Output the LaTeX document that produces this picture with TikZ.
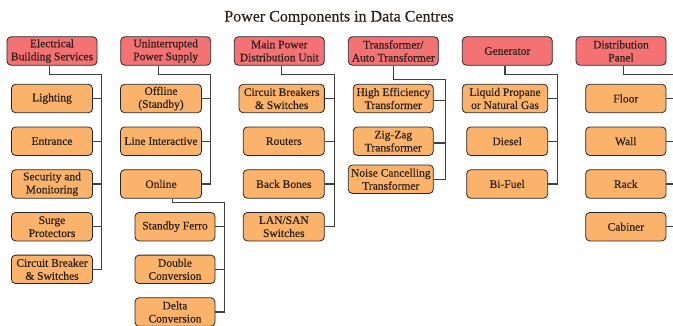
\documentclass[tikz,border=0pt]{standalone}
\usepackage{fontspec}
\setmainfont{Liberation Serif}[FakeBold=0.35]
\usepackage{tikz}

\definecolor{headred}{HTML}{F47174}
\definecolor{itemorange}{HTML}{FBB26A}
\definecolor{linkgray}{HTML}{404040}
\definecolor{inkbrown}{HTML}{2A211A}

\begin{document}
\begin{tikzpicture}[x=1pt,y=-1pt,
  box/.style={draw=black!85,line width=.8pt,rounded corners=4pt,align=center,inner sep=0pt,
    minimum height=28.4pt,text=inkbrown,font=\fontsize{11.5}{13}\selectfont},
  head/.style={box,fill=headred,minimum width=90pt},
  item/.style={box,fill=itemorange,minimum width=#1},
  item/.default=81pt,
  link/.style={draw=linkgray,line width=1.1pt}]
\useasboundingbox (0,0) rectangle (673,325);
\clip (0,0) rectangle (673,325);
\node[anchor=base,font=\fontsize{16}{18}\selectfont,text=inkbrown] (title) at (339,21.5) {Power Components in Data Centres};
\node[head] (ebs) at (52,51) {Electrical\\Building Services};
\node[item] (lig) at (52,98.5) {Lighting};
\node[item] (ent) at (52,141.2) {Entrance};
\node[item] (sec) at (52,184) {Security and\\Monitoring};
\node[item] (sur) at (52,226.7) {Surge\\Protectors};
\node[item] (cbs) at (52,269.3) {Circuit Breaker\\\& Switches};
\node[head] (ups) at (165.7,51) {Uninterrupted\\Power Supply};
\node[item] (off) at (161,98.5) {Offline\\(Standby)};
\node[item] (lin) at (161,141.2) {Line Interactive};
\node[item] (onl) at (161,184) {Online};
\node[item=80pt] (sfe) at (175,226.7) {Standby Ferro};
\node[item=80pt] (dco) at (175,269.3) {Double\\Conversion};
\node[item=80pt] (dlt) at (175,312) {Delta\\Conversion};
\node[head] (mpd) at (279.3,51) {Main Power\\Distribution Unit};
\node[item=85.3pt] (cbr) at (281.7,98.5) {Circuit Breakers\\\& Switches};
\node[item] (rou) at (283.8,141.2) {Routers};
\node[item] (bbo) at (283.8,184) {Back Bones};
\node[item] (lan) at (283.8,226.7) {LAN/SAN\\Switches};
\node[head] (trf) at (393.3,51) {Transformer/\\Auto Transformer};
\node[item=80pt] (hef) at (393.3,98.5) {High Efficiency\\Transformer};
\node[item=80pt] (zig) at (393.3,141.2) {Zig-Zag\\Transformer};
\node[item=85pt] (noi) at (390.8,179.2) {Noise Cancelling\\Transformer};
\node[head] (gen) at (507.3,51) {Generator};
\node[item=85.4pt] (lpg) at (505,98.5) {Liquid Propane\\or Natural Gas};
\node[item] (die) at (507.2,141.2) {Diesel};
\node[item] (bif) at (507.2,184) {Bi-Fuel};
\node[head] (dpa) at (621,51) {Distribution\\Panel};
\node[item=80.3pt] (flo) at (625.8,98.5) {Floor};
\node[item=80.3pt] (wal) at (625.8,141.2) {Wall};
\node[item=80.3pt] (rac) at (625.8,184) {Rack};
\node[item=80.3pt] (cab) at (625.8,226.7) {Cabiner};
\coordinate (ebsbus) at (101.3,74.7);
\coordinate (upsbus) at (210.7,74.7);
\coordinate (onlbus) at (224.7,202.7);
\coordinate (mpdbus) at (334.3,74.7);
\coordinate (trfbus) at (445.7,79.3);
\coordinate (genbus) at (557.3,74.7);
\coordinate (dpabus) at (680,74.7);
\draw[link] ([xshift=-2.7pt]ebs.south) |- (ebsbus) |- (cbs.east);
\foreach \n in {lig,ent,sec,sur} \draw[link] (\n.east) -- (\n.east -| ebsbus);
\draw[link] ([xshift=-7.4pt]ups.south) |- (upsbus) |- (onl.east);
\foreach \n in {off,lin} \draw[link] (\n.east) -- (\n.east -| upsbus);
\draw[link] ([xshift=11.3pt]onl.south) |- (onlbus) |- (dlt.east);
\foreach \n in {sfe,dco} \draw[link] (\n.east) -- (\n.east -| onlbus);
\draw[link] ([xshift=2.4pt]mpd.south) |- (mpdbus) |- (lan.east);
\foreach \n in {cbr,rou,bbo} \draw[link] (\n.east) -- (\n.east -| mpdbus);
\draw[link] (trf.south) |- (trfbus) |- (noi.east);
\foreach \n in {hef,zig} \draw[link] ([yshift=-1.8pt]\n.east) -- ([yshift=-1.8pt]\n.east -| trfbus);
\draw[link] ([xshift=-2.3pt]gen.south) |- (genbus) |- (bif.east);
\foreach \n in {lpg,die} \draw[link] (\n.east) -- (\n.east -| genbus);
\draw[link] ([xshift=2.3pt]dpa.south) |- (dpabus) |- (cab.east);
\foreach \n in {flo,wal,rac} \draw[link] (\n.east) -- (\n.east -| dpabus);
\end{tikzpicture}
\end{document}
